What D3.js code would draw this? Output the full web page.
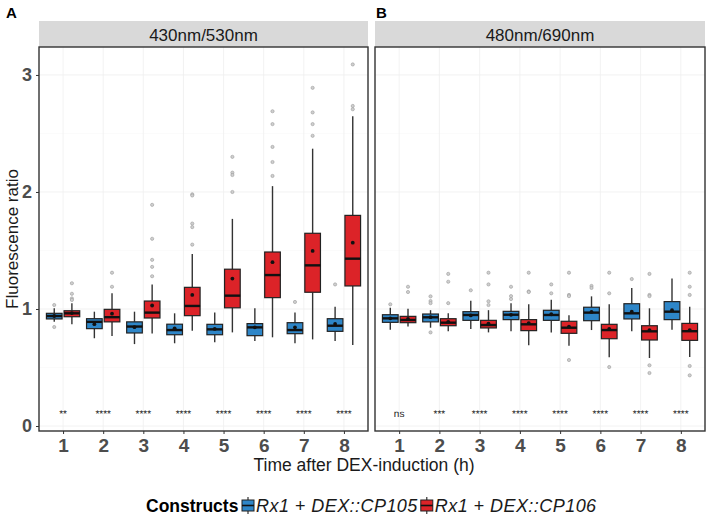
<!DOCTYPE html>
<html><head><meta charset="utf-8">
<script src="https://cdn.jsdelivr.net/npm/d3@7"></script>
<style>body{margin:0;background:#fff}svg{display:block;font-family:"Liberation Sans",Arial,sans-serif}</style>
</head><body><svg id="c" width="709" height="518"></svg>
<script>
// ---- data ----
const timepoints = ["1","2","3","4","5","6","7","8"];
const constructs = ["Rx1 + DEX::CP105", "Rx1 + DEX::CP106"];
const panels = ["430nm/530nm", "480nm/690nm"];
const yTicks = [0, 1, 2, 3];
// rows: [whiskerLow, q1, median, q3, whiskerHigh, mean]
const A_CP105 = [
  [0.89,0.915,0.94,0.963,1.006,0.94],[0.75,0.832,0.89,0.917,0.977,0.87],
  [0.70,0.795,0.85,0.89,0.977,0.845],[0.707,0.78,0.82,0.87,0.963,0.835],
  [0.715,0.78,0.826,0.869,0.97,0.83],[0.726,0.772,0.843,0.875,1.006,0.843],
  [0.707,0.789,0.82,0.883,0.969,0.843],[0.726,0.809,0.857,0.917,1.02,0.872]];
const A_CP106 = [
  [0.87,0.934,0.963,0.985,1.05,0.965],[0.77,0.89,0.93,0.997,1.134,0.96],
  [0.79,0.923,0.969,1.068,1.21,1.03],[0.815,0.943,1.026,1.185,1.47,1.12],
  [0.80,1.01,1.114,1.34,1.77,1.26],[0.758,1.097,1.29,1.487,2.05,1.40],
  [0.74,1.143,1.373,1.647,2.37,1.496],[0.692,1.197,1.43,1.80,2.647,1.567]];
const B_CP105 = [
  [0.823,0.886,0.92,0.951,1.01,0.92],[0.84,0.89,0.929,0.957,0.99,0.93],
  [0.83,0.903,0.949,0.977,1.07,0.945],[0.81,0.909,0.951,0.98,1.05,0.95],
  [0.80,0.903,0.949,0.989,1.08,0.955],[0.82,0.90,0.969,1.015,1.108,0.975],
  [0.81,0.915,0.963,1.045,1.18,0.977],[0.823,0.909,0.977,1.063,1.26,0.99]];
const B_CP106 = [
  [0.85,0.883,0.906,0.937,1.003,0.915],[0.81,0.857,0.883,0.917,0.963,0.89],
  [0.80,0.838,0.863,0.903,0.99,0.875],[0.69,0.815,0.869,0.909,1.04,0.88],
  [0.686,0.792,0.84,0.895,0.946,0.85],[0.587,0.746,0.82,0.869,1.04,0.83],
  [0.581,0.735,0.809,0.857,1.006,0.82],[0.59,0.732,0.81,0.877,1.02,0.82]];
const A_CP105_out = [[1.034,0.846],[],[],[],[],[],[1.06],[1.21]];
const A_CP106_out = [[1.22,1.13,1.09,1.077],[1.31,1.19],[1.89,1.60,1.42,1.36,1.28],
  [1.98,1.97,1.73,1.70,1.55],[2.30,2.165,2.145,2.0],[2.69,2.58,2.385,2.256,2.137],
  [2.89,2.68,2.58,2.48],[3.09,2.735,2.707]];
const B_CP105_out = [[1.04],[1.108,1.068,1.05,0.80],[1.16],[1.19,1.11,1.085],[1.21,1.134],
  [1.197,1.18],[1.256],[]];
const B_CP106_out = [[1.19,1.145],[1.30,1.233,1.05],[1.31,1.21,1.066,1.034],[1.31,1.15,1.145],
  [1.31,1.12,1.11,0.564],[1.31,1.134,0.504],[1.30,1.12,1.11,0.519,0.453],[1.31,1.19,1.12,0.513,0.433]];
const A_sig = ["**","****","****","****","****","****","****","****"];
const B_sig = ["ns","***","****","****","****","****","****","****"];
const sigY = 0.12;

// ---- styles ----
const colors = ["#2E86C8", "#DC2328"];
const svg = d3.select("#c");
const pTop = 47, pBottom = 431;
const y = d3.scaleLinear().domain([-0.0427, 3.239]).range([pBottom, pTop]);
const panelDefs = [
  {name: panels[0], label: "A", x0: 39, x1: 368, series: [A_CP105, A_CP106], outs: [A_CP105_out, A_CP106_out], sig: A_sig},
  {name: panels[1], label: "B", x0: 375, x1: 705, series: [B_CP105, B_CP106], outs: [B_CP105_out, B_CP106_out], sig: B_sig}
];
const axisFont = "Liberation Sans, Arial, sans-serif";

panelDefs.forEach((p, pi) => {
  const x = d3.scalePoint().domain(timepoints).range([p.x0, p.x1]).padding(0.6);
  const step = x.step();
  const g = svg.append("g");
  g.append("rect").attr("x", p.x0).attr("y", 21).attr("width", p.x1 - p.x0).attr("height", pTop - 21).attr("fill", "#d9d9d9");
  g.append("text").attr("x", (p.x0 + p.x1) / 2).attr("y", 35).attr("dy", "0.35em").attr("text-anchor", "middle")
    .attr("font-size", 17).attr("fill", "#1a1a1a").text(p.name);
  svg.append("text").attr("x", pi === 0 ? 6 : 376).attr("y", 18).attr("font-size", 15).attr("font-weight", "bold").text(p.label);
  g.selectAll(".gh").data(yTicks).join("line").attr("x1", p.x0).attr("x2", p.x1)
    .attr("y1", d => y(d)).attr("y2", d => y(d)).attr("stroke", "#efefef").attr("stroke-width", 0.8);
  g.selectAll(".gm").data([0.5, 1.5, 2.5]).join("line").attr("x1", p.x0).attr("x2", p.x1)
    .attr("y1", d => y(d)).attr("y2", d => y(d)).attr("stroke", "#f7f7f7").attr("stroke-width", 0.5);
  g.selectAll(".gv").data(timepoints).join("line").attr("x1", d => x(d)).attr("x2", d => x(d))
    .attr("y1", pTop).attr("y2", pBottom).attr("stroke", "#efefef").attr("stroke-width", 0.8);
  const bw = 0.39 * step, off = 0.22 * step;
  p.series.forEach((ser, si) => {
    const dx = si === 0 ? -off : off;
    ser.forEach((r, i) => {
      const cx = x(timepoints[i]) + dx;
      const bg = g.append("g");
      bg.append("line").attr("x1", cx).attr("x2", cx).attr("y1", y(r[4])).attr("y2", y(r[3])).attr("stroke", "#333").attr("stroke-width", 1.4);
      bg.append("line").attr("x1", cx).attr("x2", cx).attr("y1", y(r[1])).attr("y2", y(r[0])).attr("stroke", "#333").attr("stroke-width", 1.4);
      bg.append("rect").attr("x", cx - bw / 2).attr("y", y(r[3])).attr("width", bw).attr("height", y(r[1]) - y(r[3]))
        .attr("fill", colors[si]).attr("stroke", "#222").attr("stroke-width", 1.2);
      bg.append("line").attr("x1", cx - bw / 2).attr("x2", cx + bw / 2).attr("y1", y(r[2])).attr("y2", y(r[2])).attr("stroke", "#111").attr("stroke-width", 2.4);
      p.outs[si][i].forEach(v => {
        bg.append("circle").attr("cx", cx).attr("cy", y(v)).attr("r", 1.6).attr("fill", "#cfcfcf").attr("stroke", "#9a9a9a").attr("stroke-width", 0.6);
      });
      bg.append("circle").attr("cx", cx).attr("cy", y(r[5])).attr("r", 1.9).attr("fill", "#111");
    });
  });
  g.selectAll(".sig").data(p.sig).join("text").attr("x", (d, i) => x(timepoints[i])).attr("y", y(sigY) + 5)
    .attr("text-anchor", "middle").attr("font-size", 10).attr("fill", "#222").style("text-rendering", "geometricPrecision").text(d => d);
  g.append("rect").attr("x", p.x0).attr("y", pTop).attr("width", p.x1 - p.x0).attr("height", pBottom - pTop)
    .attr("fill", "none").attr("stroke", "#333").attr("stroke-width", 1.4);
  const xa = g.append("g").attr("transform", `translate(0,${pBottom})`).call(d3.axisBottom(x).tickSize(3).tickPadding(5));
  xa.select(".domain").remove();
  xa.selectAll("line").attr("stroke", "#333");
  xa.selectAll("text").attr("font-size", 19).attr("font-weight", "bold").attr("fill", "#4d4d4d").attr("font-family", axisFont);
  if (pi === 0) {
    const ya = g.append("g").attr("transform", `translate(${p.x0},0)`)
      .call(d3.axisLeft(y).tickValues(yTicks).tickFormat(d3.format("d")).tickSize(3).tickPadding(4));
    ya.select(".domain").remove();
    ya.selectAll("line").attr("stroke", "#333");
    ya.selectAll("text").attr("font-size", 18).attr("font-weight", "bold").attr("fill", "#4d4d4d").attr("font-family", axisFont);
  }
});

svg.append("text").attr("x", 364).attr("y", 471).attr("text-anchor", "middle").attr("font-size", 17.5).attr("fill", "#1a1a1a").text("Time after DEX-induction (h)");
svg.append("text").attr("transform", "translate(12,239) rotate(-90)").attr("dy", "0.35em").attr("text-anchor", "middle").attr("font-size", 17).attr("fill", "#1a1a1a").text("Fluorescence ratio");

const lg = svg.append("g");
lg.append("text").attr("x", 146).attr("y", 512).attr("font-size", 17.5).attr("font-weight", "bold").text("Constructs");
let lx = 242;
constructs.forEach((c, i) => {
  const kx = lx;
  lg.append("line").attr("x1", kx + 6).attr("x2", kx + 6).attr("y1", 497).attr("y2", 514).attr("stroke", "#333").attr("stroke-width", 1.2);
  lg.append("rect").attr("x", kx).attr("y", 500).attr("width", 12).attr("height", 11).attr("fill", colors[i]).attr("stroke", "#222").attr("stroke-width", 1);
  lg.append("line").attr("x1", kx).attr("x2", kx + 12).attr("y1", 505.5).attr("y2", 505.5).attr("stroke", "#111").attr("stroke-width", 1.6);
  const t = lg.append("text").attr("x", kx + 14).attr("y", 512).attr("font-size", 18).attr("letter-spacing", 0.45)
    .attr("font-style", "italic").attr("fill", "#1a1a1a").text(c);
  lx = kx + 14 + t.node().getComputedTextLength() + 3;
});
</script></body></html>
